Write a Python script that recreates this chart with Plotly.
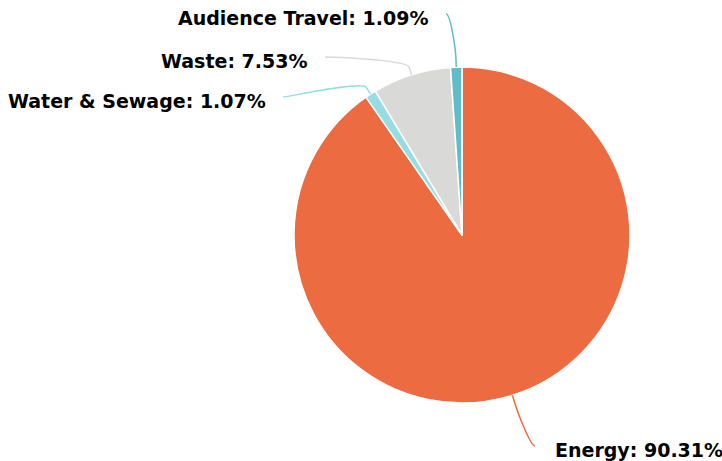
import math
import plotly.graph_objects as go

# ---- data ----
categories = ["Energy", "Water & Sewage", "Waste", "Audience Travel"]
shares = [90.31, 1.07, 7.53, 1.09]
colors = ["#EC6B41", "#96DCE3", "#D9DAD7", "#5EBDC7"]

# ---- layout constants (pixels) ----
W, H = 722, 461
CX, CY, R = 462, 235, 168
BREAK_OFF = 8          # soft-connector break distance beyond the rim
TEXT_GAP = {"left": 18, "right": 15}   # gap between connector end and label text
# label anchor (connector end) positions, placed as in the reference layout
label_anchor = {
    "Energy": (535, 446, "left"),
    "Water & Sewage": (283, 97, "right"),
    "Waste": (325, 57, "right"),
    "Audience Travel": (446, 14, "right"),
}

def px(x, y):
    return x / W, 1 - y / H

fig = go.Figure(go.Pie(
    labels=categories,
    values=shares,
    sort=False,
    direction="clockwise",
    rotation=0,
    marker=dict(colors=colors, line=dict(color="#FFFFFF", width=1.5)),
    textinfo="none",
    hoverinfo="label+percent",
    showlegend=False,
    domain=dict(x=[(CX - R) / W, (CX + R) / W], y=[(H - CY - R) / H, (H - CY + R) / H]),
))

total = sum(shares)
cum = 0.0
shapes, annotations = [], []
for cat, val, col in zip(categories, shares, colors):
    mid = (cum + val / 2) / total * 2 * math.pi
    cum += val
    s, c = math.sin(mid), math.cos(mid)
    tx, ty = CX + R * s, CY - R * c
    bx, by = CX + (R + BREAK_OFF) * s, CY - (R + BREAK_OFF) * c
    lx, ly, align = label_anchor[cat]
    c1x = lx + (-5 if align == "left" else 5)
    c1y = ly
    c2x, c2y = 2 * bx - tx, 2 * by - ty
    pts = [px(lx, ly), px(c1x, c1y), px(c2x, c2y), px(bx, by), px(tx, ty)]
    path = ("M {:.5f},{:.5f} C {:.5f},{:.5f} {:.5f},{:.5f} {:.5f},{:.5f} L {:.5f},{:.5f}"
            .format(*[v for p in pts for v in p]))
    shapes.append(dict(type="path", path=path, xref="paper", yref="paper",
                       line=dict(color=col, width=1.5), layer="above"))
    txt_x = lx + (TEXT_GAP[align] if align == "left" else -TEXT_GAP[align])
    ax, ay = px(txt_x, ly + 4)
    annotations.append(dict(
        x=ax, y=ay, xref="paper", yref="paper",
        text="<b>{}: {:.2f}%</b>".format(cat, val),
        showarrow=False, xanchor=align, yanchor="middle",
        font=dict(family="DejaVu Sans", size=19, color="#000000"),
    ))

fig.update_layout(
    width=W, height=H,
    margin=dict(l=0, r=0, t=0, b=0),
    paper_bgcolor="#FFFFFF",
    plot_bgcolor="#FFFFFF",
    shapes=shapes,
    annotations=annotations,
)

fig.write_html("out.html", config={"displayModeBar": False},
               post_script="document.body.style.margin='0';document.body.style.overflow='hidden';")
